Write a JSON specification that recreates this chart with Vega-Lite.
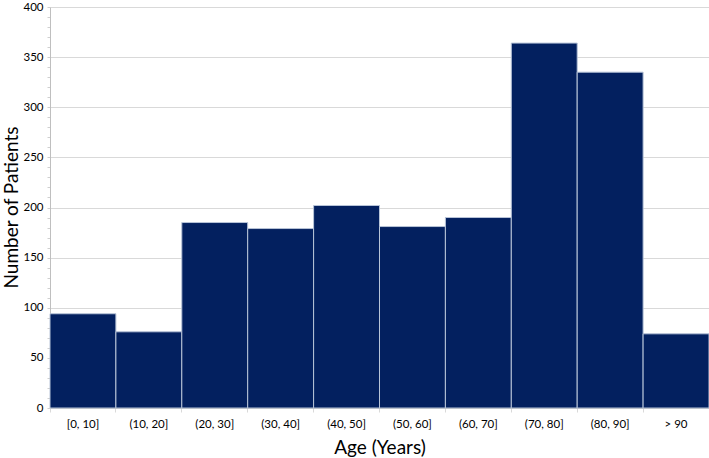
{
  "$schema": "https://vega.github.io/schema/vega-lite/v6.json",
  "width": 659,
  "height": 401,
  "autosize": {"type": "none"},
  "padding": {"left": 50, "top": 7, "right": 0, "bottom": 50},
  "background": "white",
  "config": {"view": {"stroke": null}, "font": "Lato"},
  "data": {
    "values": [
      {"age": "[0, 10]", "patients": 94},
      {"age": "(10, 20]", "patients": 76},
      {"age": "(20, 30]", "patients": 185},
      {"age": "(30, 40]", "patients": 179},
      {"age": "(40, 50]", "patients": 202},
      {"age": "(50, 60]", "patients": 181},
      {"age": "(60, 70]", "patients": 190},
      {"age": "(70, 80]", "patients": 364},
      {"age": "(80, 90]", "patients": 335},
      {"age": "> 90", "patients": 74}
    ]
  },
  "mark": {"type": "bar", "color": "#03205f", "stroke": "#b8c4d8", "strokeWidth": 1},
  "encoding": {
    "x": {
      "field": "age",
      "type": "nominal",
      "sort": null,
      "scale": {"paddingInner": 0, "paddingOuter": 0},
      "axis": {
        "title": "Age (Years)",
        "titleFontSize": 19,
        "titleFontWeight": "normal",
        "titleColor": "#000000",
        "titlePadding": 9,
        "labelAngle": 0,
        "labelFontSize": 11.5,
        "labelColor": "#000000",
        "labelPadding": 6,
        "domainColor": "#bfbfbf",
        "tickColor": "#d9d9d9",
        "tickSize": 4,
        "bandPosition": 0
      }
    },
    "y": {
      "field": "patients",
      "type": "quantitative",
      "scale": {"domain": [0, 400], "nice": false},
      "axis": {
        "title": "Number of Patients",
        "titleFontSize": 19,
        "titleFontWeight": "normal",
        "titleColor": "#000000",
        "titleX": -39,
        "titleY": 200,
        "titleAngle": -90,
        "titleAlign": "center",
        "titleBaseline": "middle",
        "values": [0,10,20,30,40,50,60,70,80,90,100,110,120,130,140,150,160,170,180,190,200,210,220,230,240,250,260,270,280,290,300,310,320,330,340,350,360,370,380,390,400],
        "labelExpr": "datum.value % 50 === 0 ? datum.label : ''",
        "labelFontSize": 11.5,
        "labelColor": "#000000",
        "labelPadding": 4,
        "labelOverlap": false,
        "domainColor": "#bfbfbf",
        "tickColor": "#d0d0d0",
        "tickSize": 3,
        "gridColor": {"condition": {"test": "datum.value % 50 === 0", "value": "#d9d9d9"}, "value": null},
        "gridWidth": 1
      }
    }
  }
}
